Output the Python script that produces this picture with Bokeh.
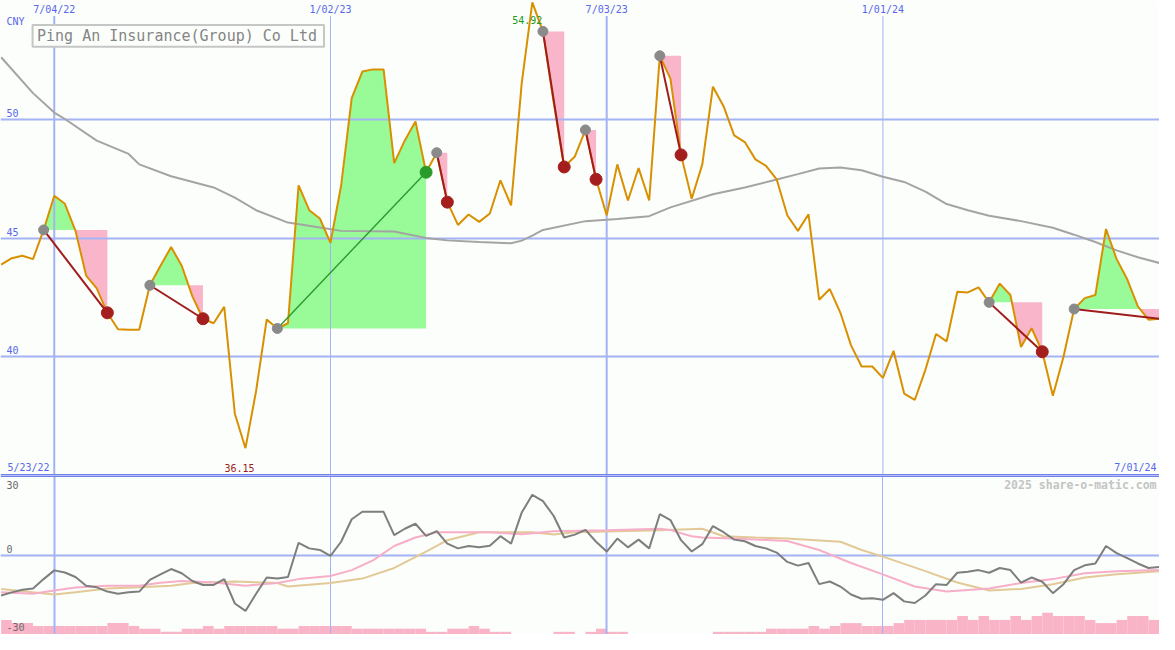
import datetime as dt
from bokeh.plotting import figure
from bokeh.models import Range1d
from bokeh.layouts import column
from bokeh.embed import file_html
from bokeh.resources import INLINE
from bokeh.core.properties import value

# ---------------- data ----------------
title_text = "Ping An Insurance(Group) Co Ltd"
currency = "CNY"
start_label = "5/23/22"
end_label = "7/01/24"
watermark = "2025 share-o-matic.com"
first_week = "2022-05-30"

# weekly closing prices (CNY), one per week from first_week
price = [
    43.88, 44.15, 44.25, 44.11, 45.34, 46.78, 46.44, 45.30, 43.42, 42.88,
    41.85, 41.16, 41.14, 41.14, 43.01, 43.83, 44.62, 43.83, 42.54, 41.60,
    41.41, 42.10, 37.60, 36.15, 38.56, 41.57, 41.19, 41.41, 47.22, 46.17,
    45.82, 44.80, 47.20, 50.89, 52.01, 52.10, 52.10, 48.15, 49.11, 49.91,
    47.77, 48.59, 46.51, 45.55, 45.99, 45.68, 46.03, 47.43, 46.37, 51.51,
    54.92, 53.70, 50.73, 47.99, 48.43, 49.55, 47.47, 45.96, 48.10, 46.58,
    47.95, 46.58, 52.67, 51.71, 48.50, 46.65, 48.10, 51.37, 50.55, 49.32,
    49.04, 48.31, 48.04, 47.47, 45.96, 45.30, 46.00, 42.40, 42.85, 41.85,
    40.48, 39.59, 39.59, 39.11, 40.25, 38.45, 38.18, 39.45, 40.96, 40.65,
    42.74, 42.71, 42.92, 42.29, 43.08, 42.60, 40.41, 41.20, 40.21, 38.36,
    40.00, 42.01, 42.47, 42.60, 45.38, 44.11, 43.26, 42.12, 41.56, 41.60,
]

# moving average (read at selected weeks)
ma_idx = [0, 3, 5, 6, 9, 12, 13, 16, 20, 22, 24, 27, 30, 32, 37, 40, 42, 45, 48, 49,
          50, 51, 55, 58, 61, 63, 67, 70, 73, 75, 77, 79, 81, 83, 85, 87, 89, 91, 93, 96,
          99, 101, 103, 105, 107, 109]
ma_val = [52.61, 51.10, 50.28, 50.01, 49.10, 48.54, 48.10, 47.60, 47.13, 46.70,
          46.17, 45.65, 45.44, 45.30, 45.27, 45.00, 44.90, 44.83, 44.78, 44.89,
          45.10, 45.34, 45.71, 45.80, 45.92, 46.29, 46.84, 47.13, 47.46, 47.69,
          47.93, 47.97, 47.85, 47.58, 47.36, 46.95, 46.43, 46.17, 45.94, 45.71,
          45.43, 45.14, 44.83, 44.48, 44.19, 43.95]

price_ticks = [50, 45, 40]
date_ticks = ["2022-07-04", "2023-01-02", "2023-07-03", "2024-01-01"]
date_tick_labels = ["7/04/22", "1/02/23", "7/03/23", "1/01/24"]
date_tick_mid_year = [True, False, True, False]

# trades (week indexes)
trade_entry = [4, 14, 26, 41, 51, 55, 62, 93, 101]
trade_exit = [10, 19, 40, 42, 53, 56, 64, 98, 109]
trade_closed = [True, True, True, True, True, True, True, True, False]

# oscillator panel
mom = [
    -15.3, -14.1, -13.1, -12.6, -9.1, -5.8, -6.6, -8.3, -11.6, -12.2,
    -13.8, -14.6, -14.1, -13.8, -9.4, -7.3, -5.3, -6.9, -9.8, -11.3,
    -11.3, -9.1, -18.3, -21.1, -14.6, -8.5, -8.9, -8.3, 4.6, 2.5,
    1.9, -0.3, 5.0, 13.5, 16.3, 16.3, 16.3, 7.5, 9.9, 11.8,
    7.2, 9.0, 4.3, 2.5, 3.4, 2.9, 3.5, 7.1, 4.3, 16.0,
    22.7, 20.3, 14.8, 6.6, 7.7, 9.5, 5.0, 1.3, 6.2, 2.9,
    5.8, 2.5, 15.4, 13.2, 5.6, 1.3, 4.1, 10.9, 8.6, 5.8,
    5.2, 3.4, 2.5, 0.9, -2.6, -4.0, -3.0, -11.0, -10.0, -11.9,
    -14.9, -16.5, -16.3, -16.9, -14.4, -17.5, -18.1, -15.3, -11.0, -11.3,
    -6.7, -6.3, -5.7, -6.7, -4.9, -5.7, -10.4, -8.5, -10.1, -14.4,
    -11.0, -5.7, -3.9, -3.2, 3.4, 0.7, -1.2, -3.2, -4.9, -4.5,
]
pink_idx = [0, 3, 5, 7, 10, 13, 15, 17, 20, 23, 26, 28, 31, 33, 35, 37, 39, 41, 46, 49,
            52, 57, 62, 63, 65, 66, 69, 74, 77, 80, 83, 86, 89, 93, 96, 99, 102, 105, 109]
pink_val = [-14.1, -14.6, -13.4, -12.3, -11.6, -11.6, -10.5, -9.8, -10.4, -11.6,
            -10.6, -9.1, -7.9, -5.7, -2.0, 3.4, 6.6, 8.6, 8.6, 7.8,
            9.0, 9.3, 9.9, 9.4, 7.1, 6.6, 6.2, 5.3, 1.9, -3.0,
            -7.3, -11.9, -13.8, -12.6, -10.6, -9.1, -6.9, -6.1, -5.7]
tan_idx = [0, 3, 5, 7, 10, 13, 16, 18, 22, 26, 27, 31, 34, 37, 40, 42, 45, 50, 52, 54,
           62, 66, 68, 71, 74, 79, 81, 83, 87, 90, 93, 96, 99, 102, 105, 109]
tan_val = [-12.8, -14.1, -14.9, -14.1, -12.6, -12.2, -11.6, -10.6, -10.0, -10.6,
           -11.9, -10.6, -8.9, -4.9, 1.3, 5.6, 8.6, 8.6, 7.7, 8.6,
           9.3, 9.9, 7.1, 6.6, 6.2, 5.0, 1.9, -0.6, -6.1, -10.4,
           -13.4, -12.8, -11.0, -8.5, -7.3, -6.1]
vol = [
    5.5, 4.3, 4.3, 3.2, 3.2, 3.2, 3.2, 3.2, 3.2, 3.2,
    4.3, 4.3, 3.2, 2.2, 2.2, 1.0, 1.0, 2.2, 2.2, 3.2,
    2.2, 3.2, 3.2, 3.2, 3.2, 3.2, 2.2, 2.2, 3.2, 3.2,
    3.2, 3.2, 3.2, 2.2, 2.2, 2.2, 2.2, 2.2, 2.2, 2.2,
    1.0, 1.0, 2.2, 2.2, 3.2, 2.2, 1.0, 1.0, 0.0, 0.0,
    0.0, 0.0, 1.0, 1.0, 0.0, 1.0, 2.2, 1.0, 1.0, 0.0,
    0.0, 0.0, 0.0, 0.0, 0.0, 0.0, 0.0, 1.0, 1.0, 1.0,
    1.0, 1.0, 2.2, 2.2, 2.2, 2.2, 3.2, 2.2, 3.2, 4.3,
    4.3, 3.2, 3.2, 3.2, 4.3, 5.5, 5.5, 5.5, 5.5, 5.5,
    7.0, 5.5, 7.0, 5.5, 5.5, 7.0, 5.5, 7.0, 8.2, 7.0,
    7.0, 7.0, 5.5, 4.3, 4.3, 5.5, 7.0, 7.0, 5.5, 5.5,
]
osc_ticks = [30, 0, -30]

# ---------------- styles ----------------
BG = "#fbfefb"
GRID = "#a3b3f3"
SEP = "#7282ea"
LABEL = "#5868ea"
FONT = value("DejaVu Sans Mono")
W, H1, H2 = 1159, 475, 159
REF_W, REF_H1 = 1175.0, 487.0

EPOCH = dt.datetime(1970, 1, 1)
DAY = 86400000.0


def ms(d):
    return (d - EPOCH).total_seconds() * 1000.0


w0 = dt.datetime.fromisoformat(first_week)
weeks = [ms(w0 + dt.timedelta(weeks=i)) for i in range(len(price))]
x_lo, x_hi = weeks[0] - 0.42 * DAY, weeks[-1] + 0.25 * DAY
y_lo, y_hi = 35.0, 55.0
o_lo, o_hi = -30.0, 30.0
tick_x = [ms(dt.datetime.fromisoformat(d)) for d in date_ticks]


def xpx(px):  # reference-pixel -> data x (layout helper)
    return x_lo + px / REF_W * (x_hi - x_lo)


def ypx(py):
    return y_hi - py / REF_H1 * (y_hi - y_lo)


def make_fig(h, ylo, yhi):
    f = figure(width=W, height=h, x_range=Range1d(x_lo, x_hi), y_range=Range1d(ylo, yhi),
               toolbar_location=None, output_backend="svg", min_border=0,
               x_axis_location=None, y_axis_location=None,
               background_fill_color=BG, border_fill_color=BG, outline_line_color=None)
    f.xgrid.visible = False
    f.ygrid.visible = False
    return f


def label(fig, xs, ys, texts, color, align="left", size="10px", dx=0, dy=0, style="normal"):
    fig.text(x=xs, y=ys, text=texts, text_font=FONT, text_font_size=size,
             text_color=color, text_align=align, text_baseline="middle",
             text_font_style=style, x_offset=dx, y_offset=dy)


# ---------------- main panel ----------------
p = make_fig(H1, y_lo, y_hi)


def split_cross(xs, ys, level):
    ox, oy = [xs[0]], [ys[0]]
    for i in range(1, len(xs)):
        a, b = ys[i - 1] - level, ys[i] - level
        if a * b < 0:
            t = a / (a - b)
            ox.append(xs[i - 1] + t * (xs[i] - xs[i - 1]))
            oy.append(level)
        ox.append(xs[i])
        oy.append(ys[i])
    return ox, oy


for e, x in zip(trade_entry, trade_exit):
    lvl = price[e]
    fx, fy = split_cross(weeks[e:x + 1], price[e:x + 1], lvl)
    n = len(fx)
    p.varea(x=fx, y1=[lvl] * n, y2=[max(v, lvl) for v in fy], fill_color="#98fb98")
    p.varea(x=fx, y1=[min(v, lvl) for v in fy], y2=[lvl] * n, fill_color="#f9b6ca")

# grid lines
p.hspan(y=price_ticks, line_color=GRID, line_width=2)
grid_top = y_hi - 16.0 / REF_H1 * (y_hi - y_lo)
p.segment(x0=tick_x, x1=tick_x, y0=[y_lo] * len(tick_x), y1=[grid_top] * len(tick_x),
          line_color=GRID, line_width=[2 if m else 1 for m in date_tick_mid_year])
p.hspan(y=[y_lo], line_color=SEP, line_width=3)

# moving average and price
p.line(x=[weeks[i] for i in ma_idx], y=ma_val, line_color="#a4a4a4", line_width=2)
p.line(x=weeks, y=price, line_color="#d99000", line_width=2)

# trades
for e, x, closed in zip(trade_entry, trade_exit, trade_closed):
    win = price[x] > price[e]
    p.line(x=[weeks[e], weeks[x]], y=[price[e], price[x]],
           line_color="#2a9a2a" if win else "#a01c1c", line_width=1.4 if win else 2)
p.scatter(x=[weeks[e] for e in trade_entry], y=[price[e] for e in trade_entry],
          size=10, color="#8a8a8a")
for e, x, closed in zip(trade_entry, trade_exit, trade_closed):
    if closed:
        win = price[x] > price[e]
        p.scatter(x=[weeks[x]], y=[price[x]], size=12,
                  color="#2a9a2a" if win else "#a51e1e")

# texts
label(p, tick_x, [y_hi] * len(tick_x), date_tick_labels, LABEL, align="center", dy=9)
label(p, [x_lo], [y_hi], [currency], LABEL, dx=6, dy=21)
label(p, [x_lo] * len(price_ticks), price_ticks, [str(t) for t in price_ticks], LABEL,
      dx=6, dy=-6.5)
label(p, [x_lo], [y_lo], [start_label], LABEL, dx=7, dy=-8)
label(p, [x_hi], [y_lo], [end_label], LABEL, align="right", dx=-3, dy=-8)
i_min = price.index(min(price))
i_max = price.index(max(price))
label(p, [weeks[i_min]], [y_lo], [f"{price[i_min]:.2f}"], "#a01c1c", align="center",
      dx=-6, dy=-8)
label(p, [weeks[i_max]], [price[i_max]], [f"{price[i_max]:.2f}"], "#229922",
      align="center", dx=-5, dy=17.5)

# title box
p.quad(left=[xpx(32.5)], right=[xpx(328)], top=[ypx(25)], bottom=[ypx(47.5)],
       fill_color=BG, line_color="#c6c6c6", line_width=2)
label(p, [xpx(37)], [ypx(36.5)], [title_text], "#858585", size="15px")

# ---------------- oscillator panel ----------------
q = make_fig(H2, o_lo, o_hi)
q.quad(left=weeks, right=[w + 7 * DAY for w in weeks], bottom=[o_lo] * len(vol),
       top=[o_lo + v for v in vol], fill_color="#f9b4c8", line_color=None)
q.vspan(x=tick_x, line_color=GRID, line_width=[2 if m else 1 for m in date_tick_mid_year])
q.hspan(y=[0], line_color=GRID, line_width=2)
q.hspan(y=[o_hi], line_color=SEP, line_width=3)
q.line(x=[weeks[i] for i in tan_idx], y=tan_val, line_color="#e2c996", line_width=2)
q.line(x=[weeks[i] for i in pink_idx], y=pink_val, line_color="#f7aec8", line_width=2)
q.line(x=weeks, y=mom, line_color="#7e7e7e", line_width=2)

label(q, [x_lo] * 3, osc_ticks, [str(t) for t in osc_ticks], "#6a6a6a", dx=6,
      dy=[9, -6.3, -8])
label(q, [x_hi], [o_hi], [watermark], "#c4c4c4", align="right", size="11.5px",
      dx=-3, dy=9, style="bold")

layout = column(p, q, spacing=0)
open("out.html", "w").write(file_html(layout, INLINE))
